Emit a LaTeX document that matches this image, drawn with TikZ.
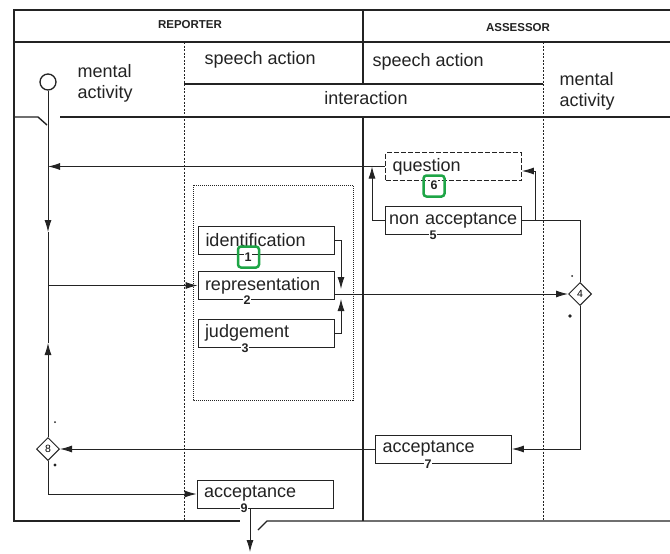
\documentclass[tikz,border=0pt]{standalone}
\usepackage{fontspec}
\setmainfont{Liberation Sans}
\usetikzlibrary{arrows.meta,shapes.geometric}
\definecolor{ink}{RGB}{35,35,35}
\definecolor{hl}{RGB}{30,165,70}
\begin{document}
\begin{tikzpicture}[x=1pt,y=-1pt,
  frame/.style={line width=1.4pt,draw=ink},
  col/.style={line width=0.8pt,draw=ink,dash pattern=on 2pt off 1.5pt},
  box/.style={draw=ink,line width=0.8pt,rectangle,minimum height=28pt,text width=122pt,inner xsep=7pt,inner ysep=0pt,align=left,font=\fontsize{18}{20}\selectfont,text=ink},
  widebox/.style={box,text width=129pt,inner xsep=3.5pt},
  qbox/.style={box,dash pattern=on 5pt off 2pt},
  num/.style={fill=white,inner sep=1pt,font=\bfseries\fontsize{12.5}{13}\selectfont,text=ink},
  hlbox/.style={draw=hl,line width=2.5pt,rounded corners=3pt,minimum size=21pt,inner sep=0pt},
  hdr/.style={font=\fontsize{18}{21}\selectfont,align=left,text=ink},
  captxt/.style={font=\bfseries\fontsize{11.5}{14}\selectfont,text=ink},
  arr/.style={-{Latex[length=12pt,width=7pt]},line width=0.9pt,draw=ink},
  con/.style={line width=0.9pt,draw=ink},
  dia/.style={diamond,draw=ink,line width=1pt,minimum size=23pt,inner sep=0pt,font=\fontsize{10.5}{10}\selectfont,fill=white},
  dotbox/.style={line width=1pt,draw=ink,dash pattern=on 1pt off 1pt}
]
\fill[white] (0,0) rectangle (670,554);
\useasboundingbox (0,0) rectangle (670,554);

% frame
\draw[frame] (670,10) -- (14,10) -- (14,521) -- (240,521);
\draw[frame] (258,530) -- (267,521) -- (670,521);
\draw[frame] (14,42) -- (670,42);
\draw[frame] (363,10) -- (363,84);
\draw[frame] (363,117) -- (363,521);
\draw[frame] (184,84) -- (543,84);
\draw[frame] (60,117) -- (670,117);
\draw[frame] (14,117) -- (38,117) -- (47,125);
\draw[col] (184,42) -- (184,521);
\draw[col] (543,42) -- (543,521);

% header texts
\node[captxt] (rep) at (190,25) {REPORTER};
\node[captxt] (ass) at (518,28) {ASSESSOR};
\node[hdr,anchor=west] (lma) at (74,83) {mental\\activity};
\node[hdr,anchor=west] (lsa) at (201,60) {speech action};
\node[hdr,anchor=west] (rsa) at (369,62) {speech action};
\node[hdr] (inter) at (366,98) {interaction};
\node[hdr,anchor=west] (rma) at (556,91) {mental\\activity};

% start circle
\node[circle,draw=ink,line width=1.3pt,minimum size=16pt,inner sep=0pt] (circ) at (48,82) {};

% dotted group
\draw[dotbox] (193,185) rectangle (353,400);

% boxes
\node[qbox] (question) at (453.5,166.5) {question};
\node[widebox] (nonacc) at (453.5,220.5) {non acceptance};
\node[box] (ident) at (266.5,240) {identification};
\node[box] (repr) at (266,285.5) {representation};
\node[box] (judg) at (266,333) {judgement};
\node[box] (acc7) at (443.5,449) {acceptance};
\node[box] (acc9) at (265,494) {acceptance};

% numbers
\node[num] (n1) at (248,257) {1};
\node[num] (n2) at (247,300.5) {2};
\node[num] (n3) at (245,348) {3};
\node[num] (n5) at (433,235.5) {5};
\node[num] (n6) at (434,185) {6};
\node[num] (n7) at (428,464) {7};
\node[num] (n9) at (244,508.5) {9};
\node[hlbox] (g1) at (248.5,257) {};
\node[hlbox] (g6) at (434,186) {};

% decisions
\node[dia] (d4) at (580,294) {4};
\node[dia] (d8) at (48,449) {8};
\fill[ink] (572,276) circle (1pt);
\fill[ink] (570,316) circle (1.8pt);
\fill[ink] (55,422) circle (1pt);
\fill[ink] (55,465) circle (1.7pt);

% coordinates
\coordinate (qa) at (48,166.5);
\coordinate (na1) at (372,220.5);
\coordinate (na2) at (372,166.5);
\coordinate (nb1) at (535,220.5);
\coordinate (nb2) at (535,171);
\coordinate (nc1) at (580,220.5);
\coordinate (dc1) at (580,449);
\coordinate (e1) at (48,494);
\coordinate (f2) at (250,552);
\coordinate (v1) at (48,232);
\coordinate (vb) at (48,285.5);
\coordinate (v2) at (48,343);
\coordinate (b1) at (341,240);
\coordinate (b2) at (341,289);
\coordinate (b3) at (341,333);
\coordinate (b4) at (341,299);

% connectors
\draw[arr] (question.west) -- (qa);
\draw[arr] (nonacc.west) -- (na1) -- (na2);
\draw[arr] (nonacc.east) -- (nb1) -- (nb2) -- (question.east |- nb2);
\draw[con] (nb1) -- (nc1) -- (d4.north);
\draw[arr] (d4.south) -- (dc1) -- (acc7.east);
\draw[arr] (acc7.west) -- (d8.east);
\draw[arr] (d8.south) -- (e1) -- (acc9.west);
\draw[arr] (acc9.south -| f2) -- (f2);
\draw[arr] (circ.south) -- (v1);
\draw[con] (v1) -- (vb);
\draw[arr] (d8.north) -- (v2);
\draw[con] (v2) -- (vb);
\draw[arr] (vb) -- (repr.west);
\draw[arr] (ident.east) -- (b1) -- (b2);
\draw[arr] (judg.east) -- (b3) -- (b4);
\draw[arr] (repr.east |- d4) -- (d4.west);
\end{tikzpicture}
\end{document}
